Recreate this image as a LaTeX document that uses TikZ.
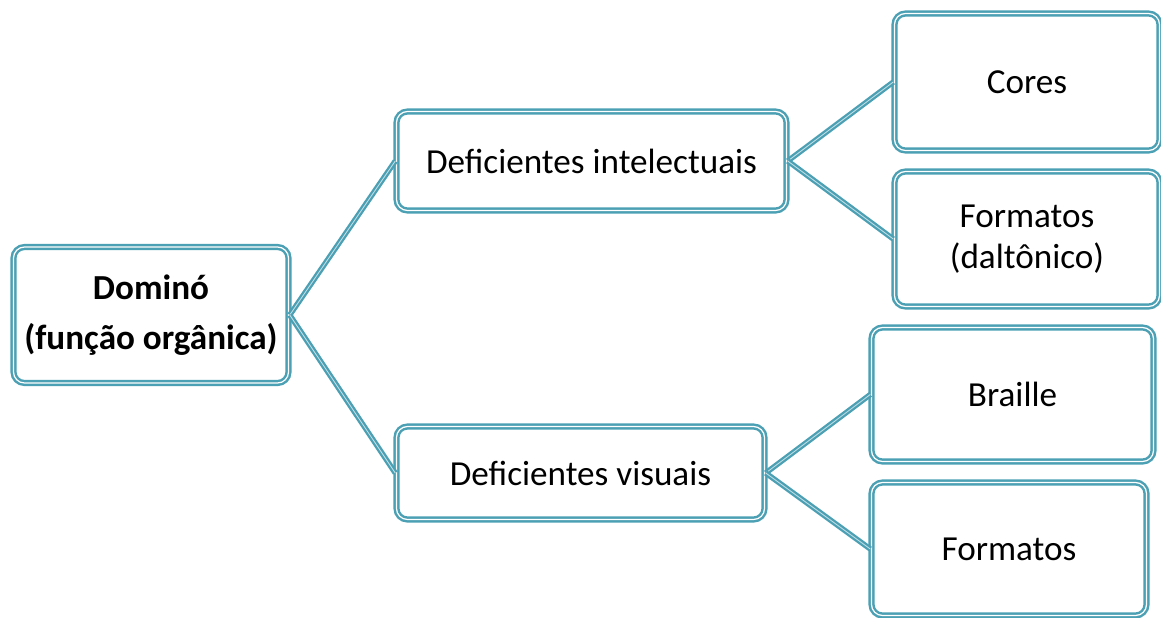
\documentclass[tikz,border=0pt]{standalone}
\usepackage{fontspec}
\setmainfont{Carlito}
\usetikzlibrary{arrows, positioning}
\definecolor{borda}{RGB}{76,160,180}
\begin{document}
\begin{tikzpicture}
		\tikzstyle{Caixa} = [rectangle, rounded corners=0.22cm, text centered, align=center, draw=borda, double=white, line width=1.4pt, double distance=0.7pt, fill=white, font=\fontsize{20}{28.5}\selectfont]
		\tikzstyle{linha} = [draw=borda, double=borda!35, line width=1.3pt, double distance=0.5pt]
		\useasboundingbox (0,0) rectangle (23.22,-12.34);

		\node (domino) [Caixa, minimum width=5.5cm, minimum height=2.72cm] at (3.02,-6.3) {\textbf{Dominó}\\\textbf{(função orgânica)}};
		\node (intel) [Caixa, minimum width=7.8cm, minimum height=1.98cm] at (11.83,-3.22) {Deficientes intelectuais};
		\node (visual) [Caixa, minimum width=7.36cm, minimum height=1.86cm] at (11.61,-9.46) {Deficientes visuais};
		\node (cores) [Caixa, minimum width=5.3cm, minimum height=2.74cm] at (20.54,-1.64) {Cores};
		\node (daltonico) [Caixa, minimum width=5.3cm, minimum height=2.7cm, font=\fontsize{20}{23}\selectfont] at (20.54,-4.78) {Formatos\\(daltônico)};
		\node (braille) [Caixa, minimum width=5.64cm, minimum height=2.68cm] at (20.25,-7.89) {Braille};
		\node (formatos) [Caixa, minimum width=5.5cm, minimum height=2.66cm] at (20.18,-10.98) {Formatos};

		\draw [linha] (domino.east) -- (intel.west);
		\draw [linha] (domino.east) -- (visual.west);
		\draw [linha] (intel.east) -- (cores.west);
		\draw [linha] (intel.east) -- (daltonico.west);
		\draw [linha] (visual.east) -- (braille.west);
		\draw [linha] (visual.east) -- (formatos.west);
\end{tikzpicture}
\end{document}
